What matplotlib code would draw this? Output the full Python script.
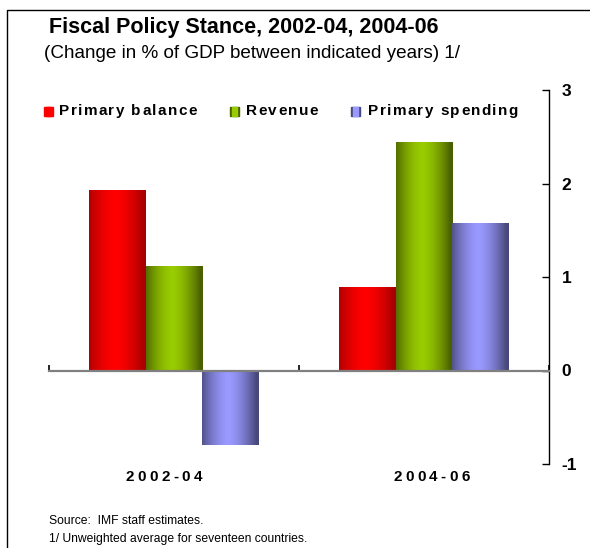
import numpy as np
import matplotlib
matplotlib.use('Agg')
import matplotlib.pyplot as plt
from matplotlib import font_manager
from matplotlib.font_manager import FontProperties
from matplotlib.ft2font import FT2Font
from matplotlib.transforms import ScaledTranslation
from matplotlib.lines import Line2D
from matplotlib.patches import Rectangle
from matplotlib.colors import to_rgb

plt.rcParams['font.family'] = ['Liberation Sans', 'DejaVu Sans']

categories = ['2002-04', '2004-06']
series_names = ['Primary balance', 'Revenue', 'Primary spending']
primary_balance = [1.92, 0.88]
revenue = [1.11, 2.43]
primary_spending = [-0.80, 1.57]
y_ticks = [-1, 0, 1, 2, 3]

# bright centre / dark edge for the shaded bars
bright = ['#ff0000', '#99cc00', '#9999ff']
dark = ['#a80000', '#4a6000', '#48487a']

W, H, DPI = 590, 548, 100
fig = plt.figure(figsize=(W / DPI, H / DPI), dpi=DPI)
ax = fig.add_axes([49 / W, 1 - 464 / H, 500 / W, 374 / H])


def advances(s, fp):
    font = FT2Font(font_manager.findfont(fp))
    font.set_size(fp.get_size_in_points(), 72)
    return [font.load_char(ord(c)).linearHoriAdvance / 65536 for c in s]


def spaced(x, y, s, trans, size, gap_px, ha='left', weight='bold'):
    # letter-spaced text, one glyph at a time
    fp = FontProperties(family='Liberation Sans', weight=weight, size=size)
    gap = gap_px * 72 / DPI
    adv = advances(s, fp)
    total = sum(adv) + gap * (len(s) - 1)
    pos = -total / 2 if ha == 'center' else 0
    for c, a in zip(s, adv):
        fig.text(x, y, c, fontproperties=fp, va='center', ha='left',
                 transform=trans + ScaledTranslation(pos / 72, 0, fig.dpi_scale_trans))
        pos += a + gap


def shade(c0, c1):
    t = np.linspace(0, 1, 200)
    f = np.clip(1 - np.abs((t - 0.46) / 0.5) ** 1.6, 0, 1)
    a, b = np.array(to_rgb(c0)), np.array(to_rgb(c1))
    return (a[None, :] + (b - a)[None, :] * f[:, None])[None, :, :]


x = np.arange(len(categories))
width = 0.226
values = [primary_balance, revenue, primary_spending]
for i, vals in enumerate(values):
    bars = ax.bar(x + (i - 1) * width, vals, width, color='none', zorder=2)
    for r in bars:
        x0, w, h = r.get_x(), r.get_width(), r.get_height()
        ax.imshow(shade(dark[i], bright[i]), extent=[x0, x0 + w, min(0, h), max(0, h)],
                  aspect='auto', zorder=2, interpolation='bilinear')

ax.set_xlim(-0.5, 1.5)
ax.set_ylim(-1, 3)

# value axis on the right
ax.yaxis.tick_right()
ax.set_yticks(y_ticks)
ax.set_yticklabels([str(v) for v in y_ticks], fontsize=12.5, fontweight='bold')
ax.tick_params(axis='y', direction='in', length=5, width=1, pad=9, color='black')
for side in ['left', 'top']:
    ax.spines[side].set_visible(False)
ax.spines['right'].set_color('black')
ax.spines['right'].set_linewidth(1)

# category axis sits on zero
ax.spines['bottom'].set_position(('data', 0))
ax.spines['bottom'].set_color('#808080')
ax.spines['bottom'].set_linewidth(1.6)
ax.spines['bottom'].set_zorder(3)
ax.set_xticks([-0.5, 0.5, 1.5])
ax.set_xticklabels([])
ax.tick_params(axis='x', direction='in', length=4, width=1.2, color='black')

for xi, cat in zip([-0.04, 1.03], categories):
    spaced(xi, -0.035, cat, ax.get_xaxis_transform(), 11, 3.4, ha='center')

# titles and notes
fig.text(49 / W, 1 - 33 / H, 'Fiscal Policy Stance, 2002-04, 2004-06',
         fontsize=15.5, fontweight='bold', va='baseline', ha='left')
fig.text(44 / W, 1 - 53 / H, '(Change in % of GDP between indicated years) 1/',
         fontsize=13.6, va='center', ha='left')
fig.text(49 / W, 1 - 521 / H, 'Source:  IMF staff estimates.', fontsize=8.7, va='center')
fig.text(49 / W, 1 - 539 / H, '1/ Unweighted average for seventeen countries.',
         fontsize=8.7, va='center')

# legend
leg_sq = [44, 230, 351]
leg_tx = [59, 246, 368]
for i, name in enumerate(series_names):
    fig.add_artist(Rectangle((leg_sq[i] / W, 1 - 116 / H), 9 / W, 9 / H,
                             transform=fig.transFigure, color=bright[i] if i == 0 else dark[i]))
    fig.add_artist(Rectangle(((leg_sq[i] + 2) / W, 1 - 116 / H), 5 / W, 9 / H,
                             transform=fig.transFigure, color=bright[i]))
    spaced(leg_tx[i] / W, 1 - 111 / H, name, fig.transFigure, 11, 1.4)

# frame
fig.add_artist(Line2D([7 / W, 7 / W, 1], [0, 1 - 10 / H, 1 - 10 / H],
                      transform=fig.transFigure, color='black', lw=1))

fig.savefig('out.png', dpi=DPI)
